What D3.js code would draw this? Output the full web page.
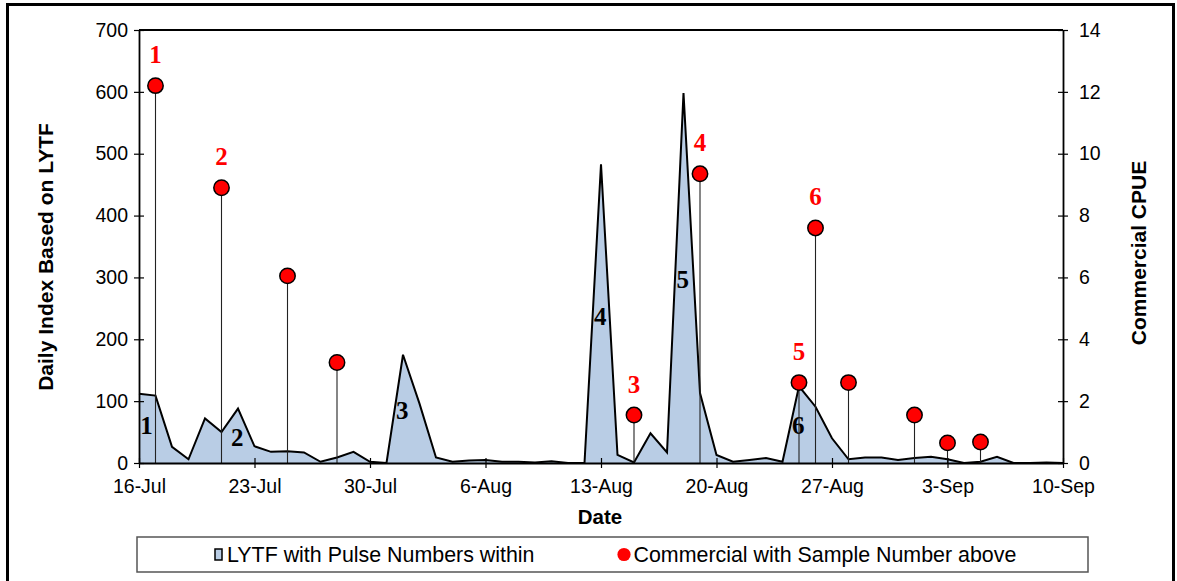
<!DOCTYPE html>
<html>
<head>
<meta charset="utf-8">
<script src="https://cdn.jsdelivr.net/npm/d3@7"></script>
<style>
  html, body { margin: 0; padding: 0; background: #fff; }
  svg { display: block; }
</style>
</head>
<body>
<svg id="chart" width="1177" height="581"></svg>
<script>
// ---------------- DATA ----------------
const startDate = "2013-07-16";
const endDate = "2013-09-10";
// LYTF daily index, one value per day from 16-Jul to 10-Sep
const lytfValues = [
  112, 109, 26, 6, 72, 50, 88, 27, 18, 19, 17, 2, 9, 18, 2, 0,          // 16-31 Jul
  175, 96, 9, 2, 4, 5, 2, 2, 1, 3,                                       // 1-10 Aug
  0, 0, 483, 13, 1, 48, 17, 598, 113, 13,                                // 11-20 Aug
  2, 5, 8, 2, 124, 91, 40, 6, 9, 9, 5,                                   // 21-31 Aug
  8, 10, 6, 0, 2, 10, 0, 0, 1, 0                                         // 1-10 Sep
];
// Commercial CPUE samples
const cpueDates = ["2013-07-17", "2013-07-21", "2013-07-25", "2013-07-28", "2013-08-15", "2013-08-19",
                   "2013-08-25", "2013-08-26", "2013-08-28", "2013-09-01", "2013-09-03", "2013-09-05"];
const cpueValues = [12.2, 8.9, 6.05, 3.25, 1.55, 9.35, 2.6, 7.6, 2.6, 1.55, 0.65, 0.68];
const sampleNumbers = ["1", "2", "", "", "3", "4", "5", "6", "", "", "", ""];
// Pulse number annotations (day offset from start, left-axis value)
const pulseLabels = ["1", "2", "3", "4", "5", "6"];
const pulseDayOffsets = [0.45, 5.95, 15.95, 27.95, 32.95, 39.95];
const pulseValues = [61, 41, 85, 237, 296, 61];
// Axis ticks
const xTickLabels = ["16-Jul", "23-Jul", "30-Jul", "6-Aug", "13-Aug", "20-Aug", "27-Aug", "3-Sep", "10-Sep"];
const leftTicks = [0, 100, 200, 300, 400, 500, 600, 700];
const rightTicks = [0, 2, 4, 6, 8, 10, 12, 14];

// ---------------- LAYOUT ----------------
const svg = d3.select("#chart");
const plot = { left: 139, right: 1063, top: 30, bottom: 463 };
const sans = "'Liberation Sans', Arial, sans-serif";
const serif = "'Liberation Serif', 'Times New Roman', serif";

const parse = d3.utcParse("%Y-%m-%d");
const t0 = parse(startDate), t1 = parse(endDate);
const x = d3.scaleUtc().domain([t0, t1]).range([plot.left, plot.right]);
const yL = d3.scaleLinear().domain([0, 700]).range([plot.bottom, plot.top]);
const yR = d3.scaleLinear().domain([0, 14]).range([plot.bottom, plot.top]);

const lytf = lytfValues.map((v, i) => ({ date: d3.utcDay.offset(t0, i), v }));
const cpue = cpueDates.map((d, i) => ({ date: parse(d), v: cpueValues[i], label: sampleNumbers[i] }));

// outer frame
svg.append("rect").attr("x", 7.5).attr("y", 4.5).attr("width", 1166).attr("height", 600)
  .attr("fill", "none").attr("stroke", "#000").attr("stroke-width", 3);

// area
const area = d3.area().x(d => x(d.date)).y0(yL(0)).y1(d => yL(d.v));
const line = d3.line().x(d => x(d.date)).y(d => yL(d.v));
svg.append("path").datum(lytf).attr("d", area).attr("fill", "#B9CDE5");
svg.append("path").datum(lytf).attr("d", line).attr("fill", "none")
  .attr("stroke", "#000").attr("stroke-width", 2).attr("stroke-linejoin", "miter");

// pulse labels
svg.append("g").selectAll("text").data(pulseLabels).join("text")
  .attr("x", (d, i) => x(new Date(t0.getTime() + pulseDayOffsets[i] * 86400000)))
  .attr("y", (d, i) => yL(pulseValues[i]))
  .attr("text-anchor", "middle").attr("dominant-baseline", "central")
  .attr("font-family", serif).attr("font-weight", "bold").attr("font-size", 25)
  .attr("fill", "#000").text(d => d);

// stems
svg.append("g").selectAll("line").data(cpue).join("line")
  .attr("x1", d => x(d.date)).attr("x2", d => x(d.date))
  .attr("y1", d => yR(d.v)).attr("y2", yR(0))
  .attr("stroke", "#222").attr("stroke-width", 1.1);

// axes
const xAxisTicks = d3.range(0, 57, 7).map(i => d3.utcDay.offset(t0, i));
const gx = svg.append("g").attr("transform", `translate(0,${plot.bottom})`)
  .call(d3.axisBottom(x).tickValues(xAxisTicks).tickSize(5).tickSizeOuter(0)
    .tickFormat((d, i) => xTickLabels[i]));
const gl = svg.append("g").attr("transform", `translate(${plot.left},0)`)
  .call(d3.axisLeft(yL).tickValues(leftTicks).tickSize(5).tickSizeOuter(0));
const gr = svg.append("g").attr("transform", `translate(${plot.right},0)`)
  .call(d3.axisRight(yR).tickValues(rightTicks).tickSize(5).tickSizeOuter(0));

[gx, gl, gr].forEach(g => {
  g.select(".domain").attr("stroke", "#000").attr("stroke-width", 1.8);
  g.selectAll(".tick line").attr("stroke", "#000").attr("stroke-width", 1.2);
  g.selectAll(".tick text").attr("font-family", sans).attr("font-size", 19.5).attr("fill", "#000");
});
// ticks crossing the axes
gx.selectAll(".tick line").attr("y1", -5).attr("y2", 5);
gx.selectAll(".tick text").attr("y", 29.5).attr("dy", 0);
gl.selectAll(".tick line").attr("x1", 5).attr("x2", -5);
gl.selectAll(".tick text").attr("x", -11);
gr.selectAll(".tick line").attr("x1", -5).attr("x2", 5);
gr.selectAll(".tick text").attr("x", 16);

// top border of plot
svg.append("line").attr("x1", plot.left).attr("x2", plot.right).attr("y1", plot.top).attr("y2", plot.top)
  .attr("stroke", "#000").attr("stroke-width", 2);

// dots
svg.append("g").selectAll("circle").data(cpue).join("circle")
  .attr("cx", d => x(d.date)).attr("cy", d => yR(d.v)).attr("r", 7.7)
  .attr("fill", "#FF0000").attr("stroke", "#000").attr("stroke-width", 1.5);

// sample numbers
svg.append("g").selectAll("text").data(cpue.filter(d => d.label)).join("text")
  .attr("x", d => x(d.date)).attr("y", d => yR(d.v) - 31)
  .attr("text-anchor", "middle").attr("dominant-baseline", "central")
  .attr("font-family", serif).attr("font-weight", "bold").attr("font-size", 25)
  .attr("fill", "#FF0000").text(d => d.label);

// axis titles
svg.append("text").attr("x", 600).attr("y", 524)
  .attr("text-anchor", "middle").attr("font-family", sans).attr("font-weight", "bold")
  .attr("font-size", 20.5).text("Date");
svg.append("text").attr("transform", "translate(53,257) rotate(-90)")
  .attr("text-anchor", "middle").attr("font-family", sans).attr("font-weight", "bold")
  .attr("font-size", 21).text("Daily Index Based on LYTF");
svg.append("text").attr("transform", "translate(1146,253) rotate(-90)")
  .attr("text-anchor", "middle").attr("font-family", sans).attr("font-weight", "bold")
  .attr("font-size", 21).text("Commercial CPUE");

// legend
const lg = svg.append("g");
lg.append("rect").attr("x", 137).attr("y", 537).attr("width", 951).attr("height", 35)
  .attr("fill", "#fff").attr("stroke", "#555").attr("stroke-width", 1.5);
lg.append("rect").attr("x", 215).attr("y", 549).attr("width", 7).attr("height", 11)
  .attr("fill", "#B9CDE5").attr("stroke", "#000").attr("stroke-width", 1.5);
lg.append("text").attr("x", 227).attr("y", 561.5).attr("font-family", sans).attr("font-size", 21.4)
  .text("LYTF with Pulse Numbers within");
lg.append("circle").attr("cx", 624).attr("cy", 554.5).attr("r", 6.6).attr("fill", "#FF0000");
lg.append("text").attr("x", 633.5).attr("y", 561.5).attr("font-family", sans).attr("font-size", 21.4)
  .text("Commercial with Sample Number above");
</script>
</body>
</html>
